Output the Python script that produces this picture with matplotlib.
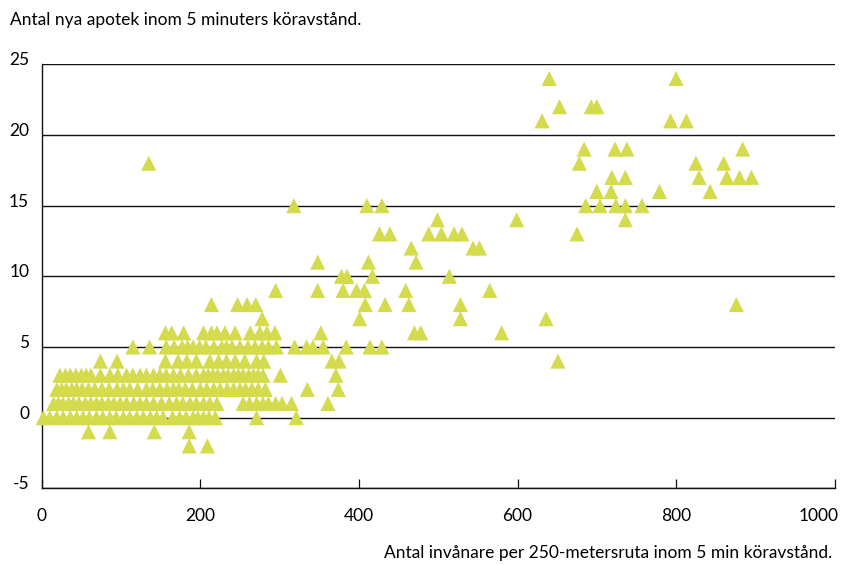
import matplotlib
matplotlib.use("Agg")
import matplotlib.pyplot as plt
from matplotlib.transforms import ScaledTranslation

# ---------------- data ----------------
title = "Antal nya apotek inom 5 minuters köravstånd."
xlabel = "Antal invånare per 250-metersruta inom 5 min köravstånd."

x_ticks = [0, 200, 400, 600, 800, 1000]
y_ticks = [-5, 0, 5, 10, 15, 20, 25]

# population per cell (x) and number of new pharmacies (y)
pop_high = [640, 800, 653, 693, 700, 631, 793, 813, 684, 723, 738, 884,
            678, 825, 860, 719, 736, 829, 864, 880, 895, 700, 718, 779,
            843, 686, 704, 724, 736, 757, 599, 736, 675, 876, 636, 580, 651]
new_high = [24, 24, 22, 22, 22, 21, 21, 21, 19, 19, 19, 19,
            18, 18, 18, 17, 17, 17, 17, 17, 17, 16, 16, 16,
            16, 15, 15, 15, 15, 15, 14, 14, 13, 8, 7, 6, 4]

pop_mid = [318, 410, 429, 499, 426, 439, 488, 504, 520, 530, 466, 544, 552,
           348, 412, 472, 378, 385, 417, 514, 348, 380, 397, 407, 459, 565,
           408, 433, 463, 528, 401, 528, 352, 470, 478,
           319, 334, 342, 355, 384, 414, 429, 366, 375, 371, 335, 374,
           315, 361, 321]
new_mid = [15, 15, 15, 14, 13, 13, 13, 13, 13, 13, 12, 12, 12,
           11, 11, 11, 10, 10, 10, 10, 9, 9, 9, 9, 9, 9,
           8, 8, 8, 8, 7, 7, 6, 6, 6,
           5, 5, 5, 5, 5, 5, 5, 4, 4, 3, 2, 2,
           1, 1, 0]

pop_low = [135,
           295, 214, 247, 259, 270, 278,
           156, 164, 179, 204, 214, 221, 231, 244, 263, 275, 284, 294,
           115, 136, 157, 177, 191, 207, 227, 240, 250, 269, 286, 296,
           74, 95, 156, 172, 183, 195, 212, 223, 233, 244, 256, 271, 280,
           23, 36, 50, 62, 86, 107, 124, 141, 157, 166, 185, 204, 216, 229,
           242, 254, 267, 279, 301,
           19, 31, 44, 59, 76, 95, 111, 132, 149, 166, 181, 200, 217, 234,
           250, 265, 282,
           15, 27, 40, 55, 69, 84, 99, 116, 132, 151, 170, 187, 204, 221,
           254, 271, 286, 303,
           2, 19, 36, 52, 69, 86, 103, 120, 137, 153, 174, 191, 204, 219, 271,
           59, 86, 142, 186,
           186, 209]
new_low = [18,
           9, 8, 8, 8, 8, 7,
           6, 6, 6, 6, 6, 6, 6, 6, 6, 6, 6, 6,
           5, 5, 5, 5, 5, 5, 5, 5, 5, 5, 5, 5,
           4, 4, 4, 4, 4, 4, 4, 4, 4, 4, 4, 4, 4,
           3, 3, 3, 3, 3, 3, 3, 3, 3, 3, 3, 3, 3, 3,
           3, 3, 3, 3, 3,
           2, 2, 2, 2, 2, 2, 2, 2, 2, 2, 2, 2, 2, 2,
           2, 2, 2,
           1, 1, 1, 1, 1, 1, 1, 1, 1, 1, 1, 1, 1, 1,
           1, 1, 1, 1,
           0, 0, 0, 0, 0, 0, 0, 0, 0, 0, 0, 0, 0, 0, 0,
           -1, -1, -1, -1,
           -2, -2]

# further overlapping cells inside the dense cluster
pop_dense = [10, 27, 44, 60, 77, 94, 111, 128, 145, 165, 182, 197, 211,
             21, 34, 47, 62, 76, 91, 107, 124, 141, 161, 178, 195, 212, 262, 279, 295,
             25, 38, 51, 67, 85, 103, 121, 140, 158, 173, 190, 208, 225, 242, 257, 273,
             30, 43, 56, 74, 96, 115, 132, 149, 175, 195, 210, 222, 235, 248, 261, 273,
             167, 184, 199, 217, 233, 260, 278]
new_dense = [0, 0, 0, 0, 0, 0, 0, 0, 0, 0, 0, 0, 0,
             1, 1, 1, 1, 1, 1, 1, 1, 1, 1, 1, 1, 1, 1, 1, 1,
             2, 2, 2, 2, 2, 2, 2, 2, 2, 2, 2, 2, 2, 2, 2, 2,
             3, 3, 3, 3, 3, 3, 3, 3, 3, 3, 3, 3, 3, 3, 3, 3,
             5, 5, 5, 5, 5, 5, 5]

pop = pop_low + pop_dense + pop_mid + pop_high
new = new_low + new_dense + new_mid + new_high

# ---------------- style ----------------
FONT = "Lato"
FS = 12.5
MARKER_COLOR = "#d4db4c"

plt.rcParams["font.family"] = [FONT, "DejaVu Sans"]

fig = plt.figure(figsize=(8.41, 5.65), dpi=100)
W, H = 841, 565
left, right, top, bottom = 41.7, 834.7, 64.3, 488.3
ax = fig.add_axes([left / W, 1 - bottom / H, (right - left) / W, (bottom - top) / H])

ax.scatter(pop, new, marker="^", s=118, color=MARKER_COLOR,
           edgecolors="none", zorder=3, clip_on=False)

ax.set_xlim(0, 1000)
ax.set_ylim(-5, 25)
ax.set_xticks(x_ticks)
ax.set_yticks(y_ticks)
ax.set_xticklabels([str(v) for v in x_ticks], fontsize=FS)
ax.set_yticklabels([str(v) for v in y_ticks], fontsize=FS)

ax.grid(axis="y", color="#111111", linewidth=1.0, zorder=0)
ax.set_axisbelow(True)

for s in ["top", "right"]:
    ax.spines[s].set_visible(False)
for s in ["left", "bottom"]:
    ax.spines[s].set_color("#111111")
    ax.spines[s].set_linewidth(1.0)

ax.tick_params(axis="x", direction="in", length=6.5, width=0.9,
               color="#111111", pad=14)
ax.tick_params(axis="y", length=0, pad=9)

off = ScaledTranslation(0, 4 / 72, fig.dpi_scale_trans)
for lab in ax.get_yticklabels():
    lab.set_transform(lab.get_transform() + off)

# last x label is right-aligned at the axis end, as in the reference
last = ax.get_xticklabels()[-1]
last.set_horizontalalignment("right")
last.set_transform(last.get_transform() + ScaledTranslation(3 / 72, 0, fig.dpi_scale_trans))

fig.text(10 / W, 1 - 20 / H, title, fontsize=FS, ha="left", va="center")
fig.text(832 / W, 1 - 553 / H, xlabel, fontsize=FS, ha="right", va="center")

fig.savefig("out.png", dpi=100)
